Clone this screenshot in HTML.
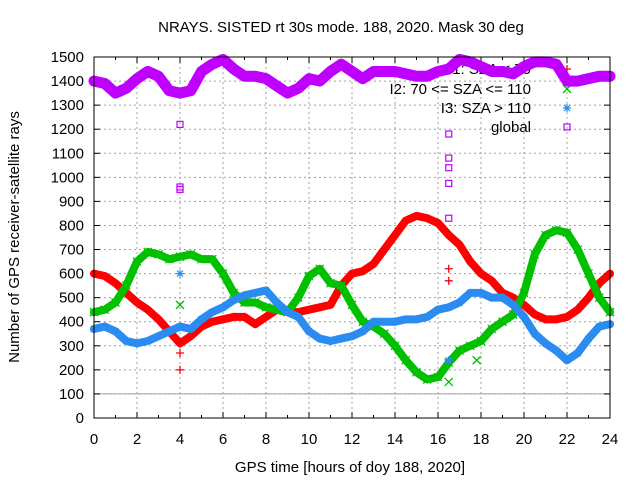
<!DOCTYPE html>
<html><head><meta charset="utf-8"><style>
body{margin:0;background:#fff}
svg{display:block;font-family:"Liberation Sans",sans-serif}
</style></head><body>
<svg id="c" width="640" height="480">
<rect width="640" height="480" fill="#fff"/>
<text x="341" y="32" font-size="15" text-anchor="middle" fill="#000">NRAYS. SISTED rt 30s mode. 188, 2020. Mask 30 deg</text>
<text x="350" y="472" font-size="15" text-anchor="middle">GPS time [hours of doy 188, 2020]</text>
<text transform="translate(19,237) rotate(-90)" font-size="15" text-anchor="middle">Number of GPS receiver-satellite rays</text>
<g id="grid"></g><g id="axes"></g><g id="legend"></g><g id="marks"></g>
<rect x="94" y="57" width="516" height="361" fill="none" stroke="#000"/>
</svg>
<script>
const hours=[0,0.5,1,1.5,2,2.5,3,3.5,4,4.5,5,5.5,6,6.5,7,7.5,8,8.5,9,9.5,10,10.5,11,11.5,12,12.5,13,13.5,14,14.5,15,15.5,16,16.5,17,17.5,18,18.5,19,19.5,20,20.5,21,21.5,22,22.5,23,23.5,24];
const i1=[600,590,560,520,480,450,410,360,310,340,380,400,410,420,420,390,420,450,440,440,450,460,470,550,600,610,640,700,760,820,840,830,810,760,720,650,600,570,520,500,470,430,410,410,420,450,500,560,600];
const i2=[440,450,480,550,650,690,680,660,670,680,660,660,600,520,480,480,460,450,440,500,590,620,560,550,470,400,380,350,300,240,190,160,170,230,280,300,320,370,400,430,520,680,760,780,770,700,600,500,440];
const i3=[370,380,360,320,310,320,340,360,380,370,410,440,460,490,510,520,530,480,440,420,360,330,320,330,340,360,400,400,400,410,410,420,450,460,480,520,520,500,500,470,420,350,310,280,240,270,330,380,390];
const glob=[1400,1390,1350,1370,1410,1440,1420,1360,1350,1360,1440,1470,1490,1450,1420,1420,1410,1380,1350,1370,1410,1400,1440,1470,1440,1410,1440,1440,1440,1430,1420,1420,1440,1450,1490,1480,1460,1440,1440,1430,1460,1480,1480,1470,1400,1400,1410,1420,1420];
const globOutT=[4,4,4,16.5,16.5,16.5,16.5,16.5];
const globOutV=[1220,960,950,1180,1080,1040,975,830];
const i1OutT=[4,4,16.5,16.5];const i1OutV=[200,270,620,570];
const i2OutT=[4,16.5,17.8];const i2OutV=[470,150,240];
const i3OutT=[4,16.5];const i3OutV=[600,240];
const xTicks=[0,2,4,6,8,10,12,14,16,18,20,22,24];
const yTicks=[0,100,200,300,400,500,600,700,800,900,1000,1100,1200,1300,1400,1500];
const X=t=>94+t/24*516, Y=v=>418-v/1500*361;
const NS="http://www.w3.org/2000/svg";
function mk(tag,at,parent){const e=document.createElementNS(NS,tag);for(const k in at)e.setAttribute(k,at[k]);parent.appendChild(e);return e;}
const grid=document.getElementById('grid'),axes=document.getElementById('axes'),leg=document.getElementById('legend'),marks=document.getElementById('marks');
xTicks.forEach(t=>{
 if(t>0&&t<24){const l=mk('line',{x1:X(t),x2:X(t),y1:57,y2:418,stroke:'#a0a0a0','stroke-dasharray':'2,3'},grid);
 
 }
 const tx=mk('text',{x:X(t),y:444,'font-size':15,'text-anchor':'middle'},axes);tx.textContent=t;
 
 
 mk('line',{x1:X(t),x2:X(t),y1:418,y2:412,stroke:'#000'},axes);mk('line',{x1:X(t),x2:X(t),y1:57,y2:63,stroke:'#000'},axes);
 if(t<24){mk('line',{x1:X(t+1),x2:X(t+1),y1:418,y2:415,stroke:'#000'},axes);mk('line',{x1:X(t+1),x2:X(t+1),y1:57,y2:60,stroke:'#000'},axes);}
});
yTicks.forEach(v=>{
 if(v>0&&v<1500){const l=mk('line',{x1:94,x2:610,y1:Y(v),y2:Y(v),stroke:'#a0a0a0','stroke-dasharray':'2,3'},grid);
 
 }
 const tx=mk('text',{x:84,y:Y(v)+5,'font-size':15,'text-anchor':'end'},axes);tx.textContent=v;
 
 
 mk('line',{x1:94,x2:100,y1:Y(v),y2:Y(v),stroke:'#000'},axes);mk('line',{x1:610,x2:604,y1:Y(v),y2:Y(v),stroke:'#000'},axes);
});
const ref=mk('line',{x1:94,x2:610,y1:Y(100),y2:Y(100),stroke:'#a0a0a0'},grid);


function marker(type,x,y,col,p){
 if(type==='plus'){mk('path',{d:`M${x-4} ${y}h8M${x} ${y-4}v8`,stroke:col,'stroke-width':1.3},p);}
 else if(type==='cross'){mk('path',{d:`M${x-4} ${y-4}l8 8M${x-4} ${y+4}l8 -8`,stroke:col,'stroke-width':1.3},p);}
 else if(type==='star'){mk('path',{d:`M${x-4} ${y}h8M${x} ${y-4}v8M${x-3} ${y-3}l6 6M${x-3} ${y+3}l6 -6`,stroke:col,'stroke-width':1.2},p);}
 else {mk('rect',{x:x-3,y:y-3,width:6,height:6,fill:'none',stroke:col,'stroke-width':1.2},p);}
}
const series=[['i1',i1,'#ff0000','plus',i1OutT,i1OutV],['i2',i2,'#00c000','cross',i2OutT,i2OutV],['i3',i3,'#2a8cf0','star',i3OutT,i3OutV],['global',glob,'#c000ff','square',globOutT,globOutV]];
const legText=['I1: SZA < 70','I2: 70 <= SZA <= 110','I3: SZA > 110','global'];
series.forEach((s,k)=>{
 const ly=[69,89,108,127][k];
 const lt=mk('text',{x:531,y:ly+5,'font-size':15,'text-anchor':'end'},leg);lt.textContent=legText[k];
 
 
 marker(s[3],567,ly,s[2],leg);
});
series.forEach(s=>{
 const g=mk('g',{},marks);
 
 
 const pts=hours.map((h,i)=>X(h)+','+Y(s[1][i])).join(' ');
 mk('polyline',{points:pts,fill:'none',stroke:s[2],'stroke-width':s[3]==='square'?11:8,'stroke-linejoin':'round','stroke-linecap':'round'},g);
 hours.forEach((h,i)=>marker(s[3],X(h),Y(s[1][i]),s[2],g));
 s[4].forEach((h,i)=>marker(s[3],X(h),Y(s[5][i]),s[2],g));
});
</script>
</body></html>
